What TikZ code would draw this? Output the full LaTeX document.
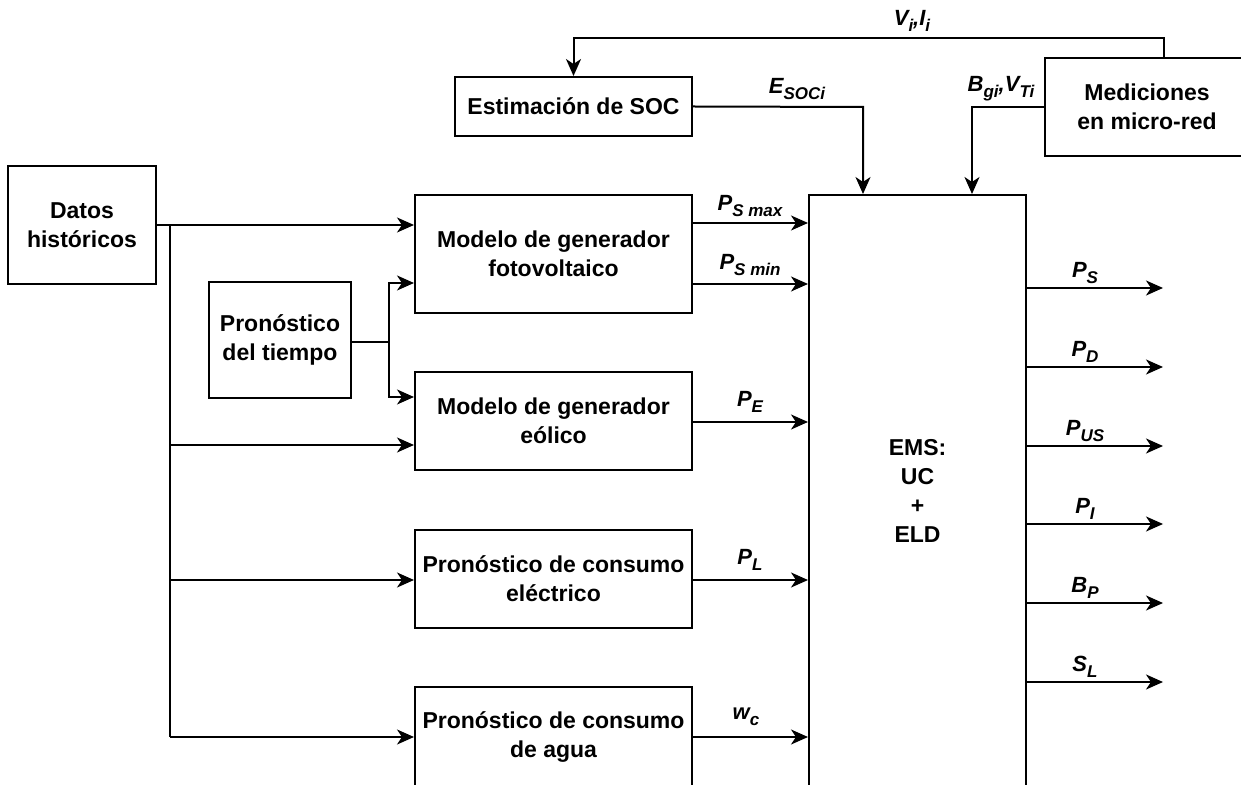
\documentclass[tikz,border=0pt]{standalone}
\usepackage{fontspec}
\setmainfont{Liberation Sans}
\usetikzlibrary{arrows.meta}
% variable with a lowered subscript, as in P_S
\newcommand\sublbl[2]{#1\raisebox{-0.55ex}{\fontsize{8.5}{9}\selectfont #2}}
\begin{document}
\begin{tikzpicture}[x=0.5pt,y=-0.5pt,
  box/.style={draw, line width=1pt, align=center, inner sep=0pt,
    font=\fontsize{11.5}{14.5}\selectfont\bfseries},
  link/.style={line width=1pt, -{Stealth[length=8.5pt,width=7.5pt,inset=2.5pt]}},
  wire/.style={line width=1pt},
  lbl/.style={font=\fontsize{11}{12}\selectfont\bfseries\itshape, inner sep=0pt}]
\useasboundingbox (0,0) rectangle (1241,785);
\clip (0,0) rectangle (1241,785);

% blocks
\node[box, minimum width=148*0.5pt, minimum height=118*0.5pt] (datos) at (82,225) {Datos\\históricos};
\node[box, minimum width=277*0.5pt, minimum height=118*0.5pt] (foto) at (553.5,254) {Modelo de generador\\fotovoltaico};
\node[box, minimum width=142*0.5pt, minimum height=116*0.5pt] (tiempo) at (280,340) {Pronóstico\\del tiempo};
\node[box, minimum width=277*0.5pt, minimum height=98*0.5pt] (eolico) at (553.5,421) {Modelo de generador\\eólico};
\node[box, minimum width=277*0.5pt, minimum height=98*0.5pt] (electrico) at (553.5,579) {Pronóstico de consumo\\eléctrico};
\node[box, minimum width=277*0.5pt, minimum height=100*0.5pt] (agua) at (553.5,737) {Pronóstico de consumo\\de agua};
\node[box, minimum width=217*0.5pt, minimum height=592*0.5pt] (ems) at (917.5,491) {EMS:\\UC\\+\\ELD};
\node[box, minimum width=237*0.5pt, minimum height=59*0.5pt] (soc) at (573.5,106.5) {Estimación de SOC};
\node[box, minimum width=204*0.5pt, minimum height=98*0.5pt] (medic) at (1147,107) {Mediciones\\en micro-red};

% historical data feeding the forecast models
\coordinate (trunk) at (170,225);
\coordinate (tEol) at (170,445);
\coordinate (tEle) at (170,580);
\coordinate (tAgu) at (170,737);
\draw[link] (datos.east) -- (datos.east -| foto.west);
\draw[wire] (trunk) -- (tAgu);
\draw[link] (tEol) -- (tEol -| eolico.west);
\draw[link] (tEle) -- (tEle -| electrico.west);
\draw[link] (tAgu) -- (tAgu -| agua.west);

% weather forecast split
\coordinate (tj) at (389,342);
\coordinate (tjUp) at (389,283);
\coordinate (tjDn) at (389,397);
\draw[wire] (tiempo.east |- tj) -- (tj);
\draw[link] (tj) -- (tjUp) -- (tjUp -| foto.west);
\draw[link] (tj) -- (tjDn) -- (tjDn -| eolico.west);

% model outputs into the EMS
\coordinate (yMax) at (0,223);
\coordinate (yMin) at (0,284);
\coordinate (yE) at (0,422);
\coordinate (yL) at (0,580);
\coordinate (yW) at (0,737);
\draw[link] (foto.east |- yMax) -- (ems.west |- yMax);
\draw[link] (foto.east |- yMin) -- (ems.west |- yMin);
\draw[link] (eolico.east |- yE) -- (ems.west |- yE);
\draw[link] (electrico.east |- yL) -- (ems.west |- yL);
\draw[link] (agua.east |- yW) -- (ems.west |- yW);
\node[lbl] (lPSmax) at (750,206) {\sublbl{P}{S max}};
\node[lbl] (lPSmin) at (750,265) {\sublbl{P}{S min}};
\node[lbl] (lPE) at (750,402) {\sublbl{P}{E}};
\node[lbl] (lPL) at (750,560) {\sublbl{P}{L}};
\node[lbl] (lWC) at (746,717) {\sublbl{w}{c}};

% EMS outputs
\foreach \y/\n/\t in {288/oPS/\sublbl{P}{S}, 367/oPD/\sublbl{P}{D}, 446/oPUS/\sublbl{P}{US},
                      524/oPI/\sublbl{P}{I}, 603/oBP/\sublbl{B}{P}, 682/oSL/\sublbl{S}{L}}{
  \coordinate (\n) at (1163,\y);
  \draw[link] (ems.east |- \n) -- (\n);
  \node[lbl] (l\n) at (1085,\y-15) {\t};
}

% measurements and state-of-charge estimation
\coordinate (mTop) at (1164,38);
\coordinate (sTop) at (573.5,38);
\draw[link] (medic.north -| mTop) -- (mTop) -- (sTop) -- (soc.north);
\node[lbl] (lVI) at (912,21) {\sublbl{V}{i},\sublbl{I}{i}};

\coordinate (eSoc) at (863,107);
\draw[link] (soc.east) -- (eSoc) -- (eSoc |- ems.north);
\node[lbl] (lESOC) at (797,89) {\sublbl{E}{SOCi}};

\coordinate (eBg) at (972,107);
\draw[link] (medic.west) -- (eBg) -- (eBg |- ems.north);
\node[lbl] (lBG) at (1001,89) {\sublbl{B}{gi},\sublbl{V}{Ti}};
\end{tikzpicture}
\end{document}
